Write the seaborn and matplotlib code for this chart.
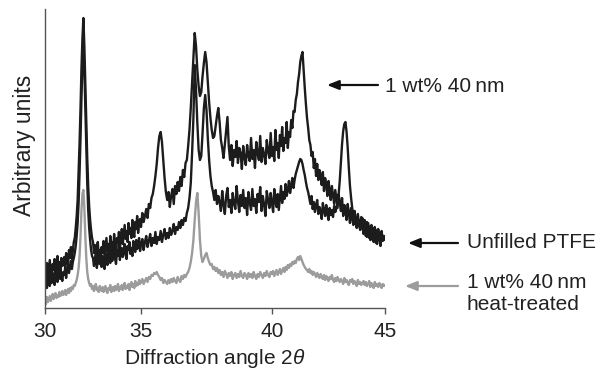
import numpy as np
import pandas as pd
import matplotlib
matplotlib.use("Agg")
import matplotlib.pyplot as plt
import seaborn as sns

# ---- data (intensity in arbitrary units) ----
angle = np.round(np.arange(30, 45.0001, 0.05), 2)   # 2-theta grid, 301 points

filled_40nm = [
    36, 27, 45, 31, 40, 48, 33, 29, 44, 38, 49, 32, 41, 52, 37, 46, 35, 50, 42, 47,
    51, 40, 55, 47, 43, 58, 50, 61, 49, 57, 66, 70, 80, 92, 108, 135, 165, 200, 240, 270,
    290, 262, 225, 185, 150, 122, 102, 88, 78, 70, 66, 55, 63, 50, 60, 66, 52, 58, 47, 61,
    55, 67, 52, 61, 70, 56, 64, 53, 72, 60, 66, 57, 74, 62, 55, 70, 65, 76, 60, 68,
    79, 64, 73, 83, 69, 77, 66, 85, 74, 80, 70, 88, 76, 71, 86, 79, 92, 75, 84, 89,
    81, 95, 86, 92, 99, 90, 104, 100, 110, 114, 122, 132, 144, 160, 172, 176, 166, 148, 130, 116,
    108, 116, 101, 112, 119, 104, 122, 114, 126, 117, 131, 122, 138, 131, 145, 148, 162, 178, 200, 226,
    250, 275, 262, 238, 222, 212, 216, 232, 245, 256, 246, 226, 206, 190, 178, 170, 172, 182, 192, 200,
    186, 168, 160, 150, 164, 178, 191, 162, 148, 163, 142, 158, 151, 167, 145, 160, 155, 139, 162, 150,
    143, 163, 152, 147, 170, 149, 158, 140, 166, 155, 148, 172, 146, 160, 153, 144, 168, 157, 150, 175,
    152, 161, 147, 178, 158, 165, 150, 173, 162, 181, 157, 170, 165, 186, 160, 176, 171, 188, 180, 197,
    196, 208, 214, 226, 234, 246, 252, 256, 238, 220, 204, 190, 180, 168, 163, 152, 156, 140, 149, 132,
    144, 128, 138, 131, 123, 136, 117, 130, 124, 112, 127, 118, 108, 122, 113, 104, 118, 109, 100, 114,
    105, 97, 110, 92, 103, 99, 88, 104, 95, 85, 100, 90, 83, 97, 87, 80, 94, 84, 78, 91,
    82, 74, 88, 78, 71, 85, 76, 68, 83, 73, 66, 81, 72, 64, 79, 70, 62, 77, 68, 72,
    70,
]

unfilled_ptfe = [
    24, 31, 20, 27, 33, 22, 29, 25, 35, 28, 23, 32, 37, 26, 31, 38, 29, 34, 27, 36,
    33, 40, 30, 38, 44, 35, 41, 47, 39, 46, 50, 55, 62, 72, 85, 105, 135, 170, 210, 245,
    260, 238, 200, 160, 125, 98, 80, 68, 58, 52, 50, 42, 48, 53, 40, 47, 55, 44, 50, 41,
    52, 46, 39, 55, 48, 43, 57, 50, 45, 59, 47, 53, 61, 49, 44, 58, 52, 63, 48, 56,
    60, 51, 57, 64, 53, 49, 62, 58, 66, 54, 60, 52, 67, 61, 56, 68, 59, 64, 70, 57,
    63, 69, 58, 66, 72, 61, 67, 74, 62, 70, 65, 76, 64, 71, 68, 77, 66, 73, 79, 69,
    75, 70, 80, 73, 77, 84, 74, 81, 78, 86, 80, 88, 83, 90, 87, 95, 100, 110, 125, 155,
    190, 243, 218, 185, 158, 148, 152, 175, 200, 213, 198, 170, 148, 132, 122, 116, 108, 118, 104, 112,
    106, 97, 117, 103, 94, 112, 120, 101, 108, 95, 115, 104, 99, 122, 107, 96, 113, 102, 118, 100,
    110, 93, 116, 105, 98, 119, 102, 109, 95, 114, 106, 121, 97, 112, 103, 92, 117, 108, 100, 115,
    104, 96, 119, 107, 101, 114, 98, 110, 122, 105, 116, 109, 124, 112, 118, 127, 115, 122, 130, 120,
    128, 134, 138, 142, 146, 149, 148, 144, 138, 133, 126, 120, 116, 110, 104, 112, 99, 106, 96, 103,
    108, 94, 101, 97, 89, 105, 98, 92, 103, 95, 88, 100, 93, 98, 91, 102, 96, 100, 106, 114,
    128, 146, 164, 177, 184, 186, 176, 160, 140, 122, 110, 100, 92, 97, 86, 91, 82, 88, 79, 85,
    90, 77, 83, 72, 86, 76, 70, 82, 74, 68, 80, 71, 65, 78, 69, 74, 63, 76, 67, 72,
    68,
]

heat_treated = [
    8, 4, 11, 6, 9, 12, 7, 10, 14, 9, 12, 15, 10, 13, 11, 16, 12, 14, 17, 13,
    15, 18, 13, 17, 19, 15, 20, 17, 21, 19, 23, 22, 25, 28, 33, 40, 52, 72, 98, 114,
    118, 100, 72, 50, 36, 29, 25, 22, 24, 19, 22, 17, 21, 24, 18, 20, 16, 22, 19, 17,
    21, 16, 19, 22, 17, 15, 20, 18, 23, 16, 19, 21, 17, 22, 18, 20, 24, 17, 21, 19,
    23, 18, 21, 25, 19, 22, 20, 24, 18, 23, 26, 21, 24, 20, 27, 22, 25, 23, 28, 24,
    26, 29, 24, 27, 30, 26, 31, 29, 33, 32, 35, 34, 36, 33, 31, 28, 30, 25, 28, 26,
    24, 28, 25, 29, 26, 30, 27, 25, 31, 28, 26, 32, 29, 33, 31, 34, 36, 40, 46, 55,
    68, 88, 106, 115, 95, 68, 52, 46, 49, 53, 55, 50, 46, 43, 44, 39, 41, 37, 40, 35,
    38, 33, 36, 31, 37, 34, 30, 35, 32, 36, 29, 33, 35, 30, 34, 31, 37, 32, 30, 35,
    33, 29, 35, 31, 34, 30, 36, 32, 29, 34, 31, 36, 33, 30, 35, 32, 37, 33, 31, 36,
    34, 37, 32, 35, 38, 33, 36, 39, 34, 37, 40, 36, 41, 38, 43, 40, 44, 42, 46, 44,
    47, 45, 49, 51, 48, 52, 49, 46, 43, 41, 39, 38, 36, 39, 35, 37, 33, 36, 34, 31,
    35, 32, 30, 34, 31, 29, 33, 28, 32, 30, 27, 31, 29, 33, 28, 26, 30, 27, 31, 28,
    26, 29, 27, 24, 30, 26, 28, 25, 23, 28, 26, 29, 24, 27, 25, 22, 28, 24, 26, 23,
    25, 27, 23, 26, 22, 24, 27, 21, 25, 23, 20, 26, 22, 24, 21, 25, 23, 20, 24, 22,
    23,
]

tick_values = [30, 35, 40, 45]
tick_labels = ["30", "35", "40", "45"]
labels = ["1 wt% 40\u2009nm", "Unfilled PTFE", "1 wt% 40\u2009nm\nheat-treated"]

assert len(angle) == len(filled_40nm) == len(unfilled_ptfe) == len(heat_treated), (
    len(angle), len(filled_40nm), len(unfilled_ptfe), len(heat_treated))

# ---- style ----
sns.set_style("ticks")
plt.rcParams["font.family"] = ["Liberation Sans", "DejaVu Sans"]
plt.rcParams["mathtext.fontset"] = "custom"
plt.rcParams["mathtext.it"] = "Liberation Sans:italic"
plt.rcParams["mathtext.rm"] = "Liberation Sans"

df = pd.concat([
    pd.DataFrame({"angle": angle, "intensity": heat_treated, "sample": "heat"}),
    pd.DataFrame({"angle": angle, "intensity": unfilled_ptfe, "sample": "unfilled"}),
    pd.DataFrame({"angle": angle, "intensity": filled_40nm, "sample": "filled"}),
])
palette = {"heat": "#9c9c9c", "unfilled": "#1c1c1c", "filled": "#1c1c1c"}

W, H = 600, 369
fig = plt.figure(figsize=(6, 3.69), dpi=100)
ax = fig.add_axes([45 / W, 1 - 308 / H, 340 / W, 299 / H])

# the reference's angle axis is drawn piecewise (uneven tick spacing)
seg_deg = np.array(tick_values, float)
seg_px = np.array([0, 96, 227, 340], float)

def fwd(v):
    v = np.asarray(v, float)
    lo = (v - seg_deg[0]) * (seg_px[1] - seg_px[0]) / 5 + seg_px[0]
    hi = (v - seg_deg[-1]) * (seg_px[-1] - seg_px[-2]) / 5 + seg_px[-1]
    return np.where(v < seg_deg[0], lo, np.where(v > seg_deg[-1], hi, np.interp(v, seg_deg, seg_px)))

def inv(p):
    p = np.asarray(p, float)
    lo = (p - seg_px[0]) * 5 / (seg_px[1] - seg_px[0]) + seg_deg[0]
    hi = (p - seg_px[-1]) * 5 / (seg_px[-1] - seg_px[-2]) + seg_deg[-1]
    return np.where(p < seg_px[0], lo, np.where(p > seg_px[-1], hi, np.interp(p, seg_px, seg_deg)))

ax.set_xscale("function", functions=(fwd, inv))

sns.lineplot(data=df, x="angle", y="intensity", hue="sample", units="sample",
             estimator=None, sort=False, palette=palette, legend=False,
             linewidth=1.7, ax=ax)

ax.set_xlim(30, 45)
ax.set_ylim(0, 299)
ax.set_xticks(tick_values)
ax.set_xticklabels(tick_labels)
ax.set_yticks([])
ax.xaxis.set_minor_locator(matplotlib.ticker.NullLocator())
sns.despine(ax=ax)
for s in ("left", "bottom"):
    ax.spines[s].set_color("#555555")
    ax.spines[s].set_linewidth(1.0)
ax.tick_params(axis="x", direction="out", length=4, width=1, color="#555555",
               labelsize=15, pad=6, labelcolor="#222222")

ax.set_xlabel(r"Diffraction angle 2$\it{\theta}$", fontsize=15, color="#222222")
ax.xaxis.set_label_coords(0.5, (308 - 358) / 299, transform=ax.transAxes)
ax.xaxis.label.set_va("center")
ax.set_ylabel("Arbitrary units", fontsize=16.5, color="#222222")
ax.yaxis.set_label_coords((25 - 45) / 340, (308 - 145) / 299)
ax.yaxis.label.set_va("center")

def fpt(x, y):
    return (x / W, 1 - y / H)

arrow_black = dict(arrowstyle="-|>,head_length=0.7,head_width=0.28", color="#111111",
                   lw=1.6, shrinkA=0, shrinkB=0)
arrow_gray = dict(arrowstyle="-|>,head_length=0.7,head_width=0.28", color="#9c9c9c",
                  lw=1.6, shrinkA=0, shrinkB=0)

ax.annotate("", xy=fpt(327, 85), xytext=fpt(378, 85), xycoords="figure fraction",
            textcoords="figure fraction", arrowprops=arrow_black)
ax.annotate("", xy=fpt(408, 243), xytext=fpt(458, 243), xycoords="figure fraction",
            textcoords="figure fraction", arrowprops=arrow_black)
ax.annotate("", xy=fpt(405, 286), xytext=fpt(458, 286), xycoords="figure fraction",
            textcoords="figure fraction", arrowprops=arrow_gray)

fig.text(*fpt(385, 86), labels[0], ha="left", va="center", fontsize=15, color="#222222")
fig.text(*fpt(467, 242), labels[1], ha="left", va="center", fontsize=15, color="#222222")
fig.text(*fpt(467, 293), labels[2], ha="left", va="center", fontsize=15, color="#222222",
         linespacing=1.2)

fig.savefig("out.png", dpi=100)
